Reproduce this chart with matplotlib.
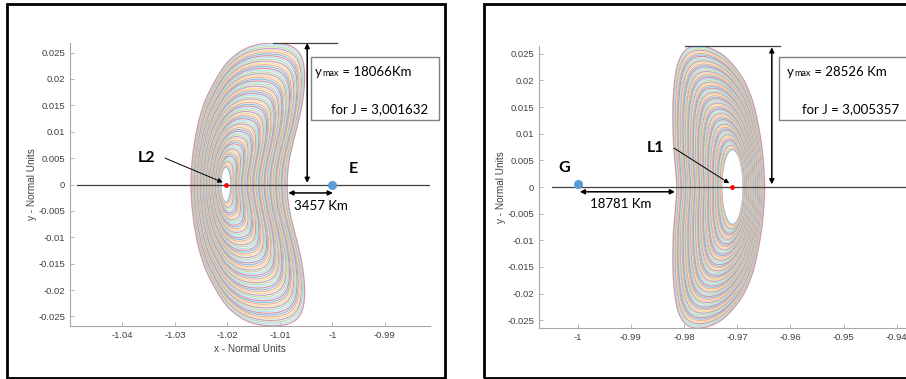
import numpy as np
import matplotlib
matplotlib.use('agg')
import matplotlib.pyplot as plt
from matplotlib.colors import to_rgb
from matplotlib.patches import Rectangle

# ---- data ----
# left figure: family of orbits around L2, outer envelope (upper half, mirrored below)
L2_env_y = [0.0, 0.004, 0.008, 0.012, 0.016, 0.020, 0.023, 0.025, 0.0262, 0.0268]
L2_env_left = [-1.0270, -1.0268, -1.0263, -1.0255, -1.0243, -1.0222, -1.0203, -1.0180, -1.0158, -1.0128]
L2_env_right = [-1.0087, -1.0084, -1.0075, -1.0064, -1.0056, -1.0052, -1.0054, -1.0060, -1.0074, -1.0096]
L2_point = (-1.0203, 0.0)
L2_hole = (0.00095, 0.0033)      # half width, half height of the inner empty region
E_point = (-1.0, 0.0)

# right figure: family of orbits around L1
L1_env_y = [0.0, 0.004, 0.008, 0.012, 0.016, 0.020, 0.023, 0.025, 0.0262, 0.0266]
L1_env_left = [-0.9813, -0.9816, -0.9820, -0.9821, -0.9821, -0.9818, -0.9813, -0.9805, -0.9795, -0.9782]
L1_env_right = [-0.9648, -0.9650, -0.9654, -0.9661, -0.9670, -0.9686, -0.9708, -0.9728, -0.9752, -0.9770]
L1_point = (-0.9709, 0.0)
L1_hole = (0.0020, 0.0070)
G_point = (-1.0, 0.0006)

n_orbits = 70
L2_xticks = [-1.04, -1.03, -1.02, -1.01, -1.0, -0.99]
L1_xticks = [-1.0, -0.99, -0.98, -0.97, -0.96, -0.95, -0.94]
yticks = [-0.025, -0.02, -0.015, -0.01, -0.005, 0, 0.005, 0.01, 0.015, 0.02, 0.025]

# matlab default line colours, washed out like in the (downscaled) screenshot
matlab = ['#0072BD', '#D95319', '#EDB120', '#7E2F8E', '#77AC30', '#4DBEEE', '#A2142F']
colors = [tuple(0.45 * c + 0.55 for c in to_rgb(m)) for m in matlab]

label_font = 'Lato'
tick_font = 'Liberation Sans'
W, H = 906, 379


def fmt(v):
    # matlab style tick labels (-1, -0.99, 0.005 ...)
    s = ('%.3f' % v).rstrip('0').rstrip('.')
    return '0' if s in ('-0', '0') else s


def resample(x, y, n=1500):
    # closed curve -> n points evenly spaced along its length
    x = np.append(x, x[0])
    y = np.append(y, y[0])
    s = np.concatenate([[0], np.cumsum(np.hypot(np.diff(x), np.diff(y)))])
    s /= s[-1]
    u = np.linspace(0, 1, n, endpoint=False)
    return np.interp(u, s, x), np.interp(u, s, y)


def smooth(v, sigma=14):
    k = np.exp(-0.5 * (np.arange(-4 * sigma, 4 * sigma + 1) / sigma) ** 2)
    k /= k.sum()
    m = 4 * sigma
    return np.convolve(np.concatenate([v[-m:], v, v[:m]]), k, mode='valid')


def orbit_family(ax, env_y, env_left, env_right, center, hole):
    env_y = np.asarray(env_y)
    xl = np.asarray(env_left)
    xr = np.asarray(env_right)
    ys = np.concatenate([-env_y[::-1], env_y[1:]])
    xl_full = np.concatenate([xl[::-1], xl[1:]])
    # outline counter-clockwise, starting on the right at y = 0
    ox = np.concatenate([xr, xl_full[::-1], xr[::-1][:-1]])
    oy = np.concatenate([env_y, ys[::-1], -env_y[::-1][:-1]])
    ox, oy = resample(ox, oy)
    ox, oy = resample(smooth(ox), smooth(oy))
    cx, cy = center
    a, b = hole
    th = np.linspace(0, 2 * np.pi, 3000, endpoint=False)
    hx, hy = resample(cx + a * np.cos(th), cy + b * np.sin(th))
    for i, t in enumerate(np.linspace(0, 1, n_orbits)):
        x = hx + t * (ox - hx)
        y = hy + t * (oy - hy)
        ax.plot(np.append(x, x[0]), np.append(y, y[0]), color=colors[i % len(colors)], lw=0.9)


def style_axes(ax, xticks):
    for s in ['top', 'right']:
        ax.spines[s].set_visible(False)
    for s in ['left', 'bottom']:
        ax.spines[s].set_color('#a8a8a8')
        ax.spines[s].set_linewidth(0.8)
    ax.set_xticks(xticks)
    ax.set_xticklabels([fmt(v) for v in xticks])
    ax.set_yticks(yticks)
    ax.set_yticklabels([fmt(v) for v in yticks])
    ax.tick_params(direction='in', length=3, width=0.6, color='#a8a8a8',
                   labelcolor='#404040', labelsize=6.8, pad=3.5)
    for lab in ax.get_xticklabels() + ax.get_yticklabels():
        lab.set_family(tick_font)


def double_arrow(ax, p0, p1):
    ax.annotate('', xy=p1, xytext=p0, annotation_clip=False,
                arrowprops=dict(arrowstyle='<|-|>', color='black', lw=1.1,
                                mutation_scale=7, shrinkA=0, shrinkB=0))


def ymax_text(ax, x, y, value):
    t1 = ax.figure.text(x, y, 'y', fontsize=9.5, family=label_font, va='baseline')
    t2 = ax.annotate('max', xy=(1, 0), xycoords=t1, xytext=(0.3, 0), textcoords='offset points',
                     fontsize=6.5, family=label_font, va='bottom')
    ax.annotate(' = ' + value, xy=(1, 0), xycoords=t2, fontsize=9.5, family=label_font, va='bottom')


fig = plt.figure(figsize=(W / 100, H / 100), dpi=100)

# black frames around the two pictures
fig.add_artist(Rectangle((7 / W, 1 - 377.5 / H), 437.5 / W, 373.5 / H, transform=fig.transFigure,
                         fill=False, ec='black', lw=2))
fig.add_artist(Rectangle((484.3 / W, 1 - 377.5 / H), 0.6, 373.5 / H, transform=fig.transFigure,
                         fill=False, ec='black', lw=2))

# ---------------- left: L2 ----------------
ax1 = fig.add_axes([70 / W, 1 - 326 / H, 360 / W, 283 / H])
orbit_family(ax1, L2_env_y, L2_env_left, L2_env_right, L2_point, L2_hole)
ax1.set_xlim(-1.05, -0.9814)
ax1.set_ylim(-0.0268, 0.0268)
style_axes(ax1, L2_xticks)
ax1.plot([-1.0487, -0.9814], [0, 0], color='#404040', lw=0.9)
ax1.plot(*L2_point, 'o', color='red', ms=3.5, mec='none')
ax1.plot(*E_point, 'o', color='#5B9BD5', ms=6.5, mec='none', clip_on=False)
ax1.text(-0.9961, 0.0029, 'E', fontsize=11.5, fontweight='bold', family=label_font, ha='center', va='center')
ax1.text(-1.0354, 0.0050, 'L2', fontsize=11.5, fontweight='bold', family=label_font, ha='center', va='center')
ax1.annotate('', xy=(-1.0209, 0.0004), xytext=(-1.0319, 0.0050),
             arrowprops=dict(arrowstyle='-|>', color='black', lw=0.7, mutation_scale=7, shrinkA=0, shrinkB=0))
ax1.plot([-1.0113, -0.9992], [0.0268, 0.0268], color='#404040', lw=0.9, clip_on=False)
double_arrow(ax1, (-1.0048, 0.0268), (-1.0048, 0.0003))
double_arrow(ax1, (-1.0084, -0.0016), (-0.9999, -0.0016))
ax1.text(-1.0021, -0.0041, '3457 Km', fontsize=9.5, family=label_font, ha='center', va='center')
ax1.set_xlabel('x - Normal Units', fontsize=7.2, color='#404040', family=tick_font)
ax1.set_ylabel('y - Normal Units', fontsize=7.2, color='#404040', family=tick_font)
ax1.xaxis.set_label_coords(0.5, -0.062)
ax1.yaxis.set_label_coords(-0.092, 0.5)

fig.add_artist(Rectangle((311 / W, 1 - 120 / H), 128.3 / W, 62.7 / H, transform=fig.transFigure,
                         fill=False, ec='#808080', lw=1))
ymax_text(ax1, 315 / W, 1 - 76.5 / H, '18066Km')
fig.text(428.5 / W, 1 - 112.7 / H, 'for J = 3,001632', fontsize=9.5, family=label_font, ha='right', va='baseline')

# ---------------- right: L1 ----------------
ax2 = fig.add_axes([539 / W, 1 - 328.3 / H, 411 / W, 282.6 / H])
orbit_family(ax2, L1_env_y, L1_env_left, L1_env_right, L1_point, L1_hole)
ax2.set_xlim(-1.00727, -0.93)
ax2.set_ylim(-0.0265, 0.0265)
style_axes(ax2, L1_xticks)
ax2.plot([-1.0049, -0.93], [0, 0], color='#404040', lw=0.9)
ax2.plot(*L1_point, 'o', color='red', ms=3.5, mec='none')
ax2.plot(*G_point, 'o', color='#5B9BD5', ms=6.5, mec='none')
ax2.text(-1.0025, 0.0035, 'G', fontsize=11.5, fontweight='bold', family=label_font, ha='center', va='center')
ax2.text(-0.9853, 0.0074, 'L1', fontsize=11.5, fontweight='bold', family=label_font, ha='center', va='center')
ax2.annotate('', xy=(-0.9715, 0.0007), xytext=(-0.9819, 0.0073),
             arrowprops=dict(arrowstyle='-|>', color='black', lw=0.7, mutation_scale=7, shrinkA=0, shrinkB=0))
ax2.plot([-0.9798, -0.9620], [0.0264, 0.0264], color='#404040', lw=0.9, clip_on=False)
double_arrow(ax2, (-0.9635, 0.0262), (-0.9635, 0.0005))
double_arrow(ax2, (-0.9996, -0.0009), (-0.9817, -0.0009))
ax2.text(-0.9920, -0.0031, '18781 Km', fontsize=9.5, family=label_font, ha='center', va='center')
ax2.set_ylabel('y - Normal Units', fontsize=7.2, color='#404040', family=tick_font)
ax2.yaxis.set_label_coords(-0.080, 0.5)

fig.add_artist(Rectangle((779.3 / W, 1 - 120 / H), 0.2, 62.7 / H, transform=fig.transFigure,
                         fill=False, ec='#808080', lw=1))
ymax_text(ax2, 787.3 / W, 1 - 76.5 / H, '28526 Km')
fig.text(899 / W, 1 - 112.7 / H, 'for J = 3,005357', fontsize=9.5, family=label_font, ha='right', va='baseline')

fig.savefig('out.png', dpi=100)
